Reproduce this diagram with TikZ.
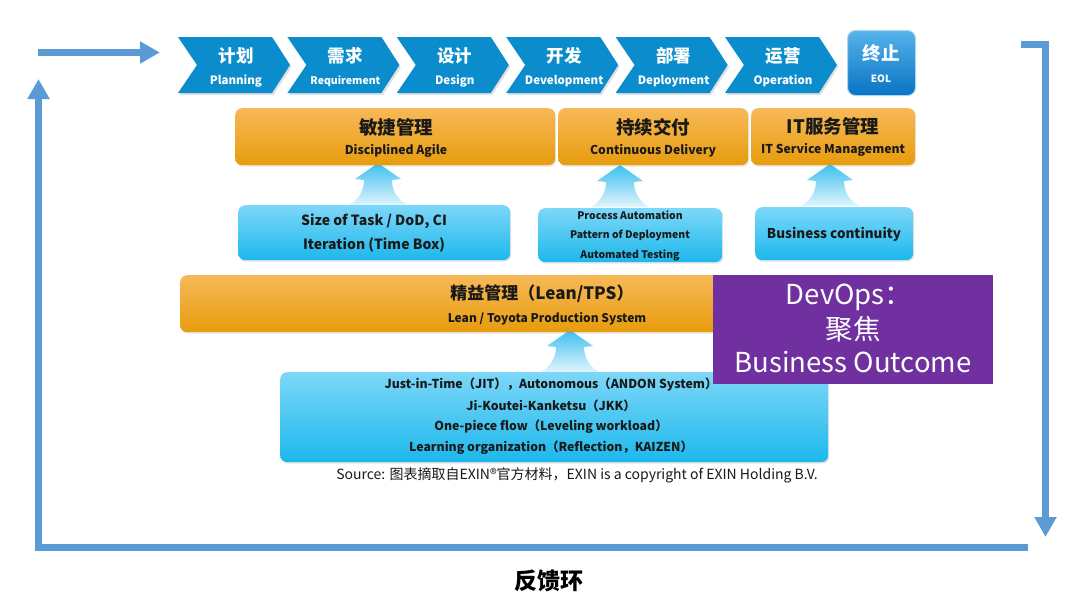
\documentclass[tikz,border=0pt]{standalone}
\usepackage{fontspec}
\setmainfont{Noto Sans CJK SC}
\usetikzlibrary{arrows.meta,shadows,calc}
\definecolor{chev}{RGB}{10,140,205}
\definecolor{or1}{RGB}{247,185,88}
\definecolor{or2}{RGB}{231,156,12}
\definecolor{bl1}{RGB}{125,215,248}
\definecolor{bl2}{RGB}{28,184,236}
\definecolor{purp}{RGB}{112,48,160}
\definecolor{loopc}{RGB}{91,155,213}
\definecolor{arrtop}{RGB}{60,192,240}
\definecolor{arrbot}{RGB}{225,245,253}
\definecolor{eol1}{RGB}{86,178,234}
\definecolor{eol2}{RGB}{8,116,196}
\definecolor{txt}{RGB}{25,25,25}
\begin{document}
\begin{tikzpicture}[x=1pt,y=-1pt,
  loopline/.style={line width=7pt, draw=loopc, -{Triangle[width=21pt,length=20pt]}},
  chcn/.style={text=white, font=\fontsize{17.5}{17.5}\selectfont\bfseries, inner sep=0pt},
  chen/.style={text=white, font=\fontsize{11}{11}\selectfont\bfseries, inner sep=0pt},
  obox/.style={rectangle, rounded corners=7pt, top color=or1, bottom color=or2, draw=none, inner sep=0pt, anchor=north west,
     drop shadow={opacity=0.2, shadow xshift=1pt, shadow yshift=-1.5pt}},
  bbox/.style={rectangle, rounded corners=7pt, top color=bl1, bottom color=bl2, draw=none, inner sep=0pt, anchor=north west,
     drop shadow={opacity=0.2, shadow xshift=1pt, shadow yshift=-1.5pt}},
  tcn/.style={text=txt, font=\fontsize{18.5}{18.5}\selectfont\bfseries, inner sep=0pt},
  ten/.style={text=txt, font=\fontsize{12.2}{12.2}\selectfont\bfseries, inner sep=0pt},
  tbl/.style={text=txt, font=\fontsize{14}{14}\selectfont\bfseries, inner sep=0pt},
  tsm/.style={text=txt, font=\fontsize{10.4}{10.4}\selectfont\bfseries, inner sep=0pt},
  tlw/.style={text=txt, font=\fontsize{12.3}{12.3}\selectfont\bfseries, inner sep=0pt},
  tpu/.style={text=white, font=\fontsize{27.5}{27.5}\selectfont, inner sep=0pt},
  pics/fatarrow/.style={code={
    \shade[top color=arrtop, bottom color=arrbot]
      (0,0) -- (23,16) -- (14,17) .. controls (14,30) and (22,38) .. (29,42)
      -- (-29,42) .. controls (-22,38) and (-14,30) .. (-14,17) -- (-23,16) -- cycle;
  }}
]
\useasboundingbox (0,0) rectangle (1080,611);
\fill[white] (0,0) rectangle (1080,611);

% feedback loop
\coordinate (ts) at (38,52.5);
\coordinate (te) at (160,52.5);
\draw[loopline] (ts) -- (te);
\coordinate (rs) at (1021,44.5);
\coordinate (rc) at (1045.5,44.5);
\coordinate (re) at (1045.5,537);
\draw[loopline] (rs) -- (rc) -- (re);
\coordinate (bs) at (1028,547);
\coordinate (bc) at (38.5,547);
\coordinate (be) at (38.5,79);
\draw[loopline] (bs) -- (bc) -- (be);

% chevrons
\foreach \i/\cn/\en in {0/计划/Planning, 1/需求/Requirement, 2/设计/Design, 3/开发/Development, 4/部署/Deployment, 5/运营/Operation}{
  \pgfmathsetmacro{\xo}{178+109.4*\i}
  \fill[black!12] (\xo+1.5,39) -- ++(94,0) -- ++(18,28) -- ++(-18,28) -- ++(-94,0) -- ++(19,-28) -- cycle;
  \fill[chev] (\xo,37) -- ++(94,0) -- ++(18,28) -- ++(-18,28) -- ++(-94,0) -- ++(19,-28) -- cycle;
  \node[chcn] (cc\i) at (\xo+58,56) {\cn};
  \node[chen, font=\fontsize{\ifnum\i=1 10.5\else 11.5\fi}{11}\selectfont\bfseries] (ce\i) at (\xo+58,81) {\en};
}
\node[rectangle, rounded corners=8pt, top color=eol1, bottom color=eol2, draw={rgb,255:red,175;green,212;blue,240}, line width=1pt,
  minimum width=68pt, minimum height=65pt, anchor=north west, inner sep=0pt] (eol) at (847,30) {};
\node[chcn, font=\fontsize{18.5}{18.5}\selectfont\bfseries] (eolcn) at (881,53) {终止};
\node[text=white, font=\fontsize{10}{10}\selectfont\bfseries, inner sep=0pt] (eolen) at (881,79) {EOL};

% fat arrows
\pic at (378,163) {fatarrow};
\pic at (620,165) {fatarrow};
\pic at (830,164) {fatarrow};
\pic at (570,330) {fatarrow};

% orange boxes
\node[obox, minimum width=320pt, minimum height=57pt] (o1) at (235,108) {};
\node[obox, minimum width=190pt, minimum height=57pt] (o2) at (558,108) {};
\node[obox, minimum width=164pt, minimum height=57pt] (o3) at (751,108) {};
\node[tcn] (o1a) at (396,127) {敏捷管理};
\node[ten] (o1b) at (396,151) {Disciplined Agile};
\node[tcn] (o2a) at (653,127) {持续交付};
\node[ten] (o2b) at (653,151) {Continuous Delivery};
\node[tcn] (o3a) at (833,126) {IT服务管理};
\node[ten] (o3b) at (833,150) {IT Service Management};

% blue boxes
\node[bbox, minimum width=272pt, minimum height=55pt] (b1) at (238,205) {};
\node[bbox, minimum width=184pt, minimum height=54pt] (b2) at (538,208) {};
\node[bbox, minimum width=158pt, minimum height=53pt] (b3) at (755,207) {};
\node[tbl] (b1a) at (374,221) {Size of Task / DoD, CI};
\node[tbl] (b1b) at (374,245) {Iteration (Time Box)};
\node[tsm] (b2a) at (630,215) {Process Automation};
\node[tsm] (b2b) at (630,235) {Pattern of Deployment};
\node[tsm] (b2c) at (630,255) {Automated Testing};
\node[tbl, font=\fontsize{13.5}{13.5}\selectfont\bfseries] (b3a) at (834,234) {Business continuity};

% lean box
\node[obox, minimum width=735pt, minimum height=57pt] (lean) at (180,275) {};
\node[tcn, font=\fontsize{17}{17}\selectfont\bfseries] (leana) at (542,294) {精益管理（Lean/TPS）};
\node[ten, font=\fontsize{12}{12}\selectfont\bfseries] (leanb) at (547,319) {Lean / Toyota Production System};

% bottom blue box
\node[bbox, minimum width=548pt, minimum height=90pt] (bot) at (280,372) {};
\node[tlw] (l1) at (551,385) {Just-in-Time（JIT），Autonomous（ANDON System）};
\node[tlw] (l2) at (551,406) {Ji-Koutei-Kanketsu（JKK）};
\node[tlw] (l3) at (551,427) {One-piece flow（Leveling workload）};
\node[tlw] (l4) at (551,448) {Learning organization（Reflection，KAIZEN）};

% purple box
\node[fill=purp, minimum width=280pt, minimum height=109pt, anchor=north west, inner sep=0pt] (pu) at (713,275) {};
\node[tpu] (pu1) at (849,297) {DevOps：};
\node[tpu] (pu2) at (853,329) {聚焦};
\node[tpu] (pu3) at (853,362) {Business Outcome};

% source & caption
\node[text=txt, font=\fontsize{14}{14}\selectfont, inner sep=0pt] (src) at (577,475.5) {Source: 图表摘取自EXIN®官方材料，EXIN is a copyright of EXIN Holding B.V.};
\node[text=black, font=\fontsize{23}{23}\selectfont\bfseries, inner sep=0pt] (cap) at (549,581) {反馈环};
\end{tikzpicture}
\end{document}
